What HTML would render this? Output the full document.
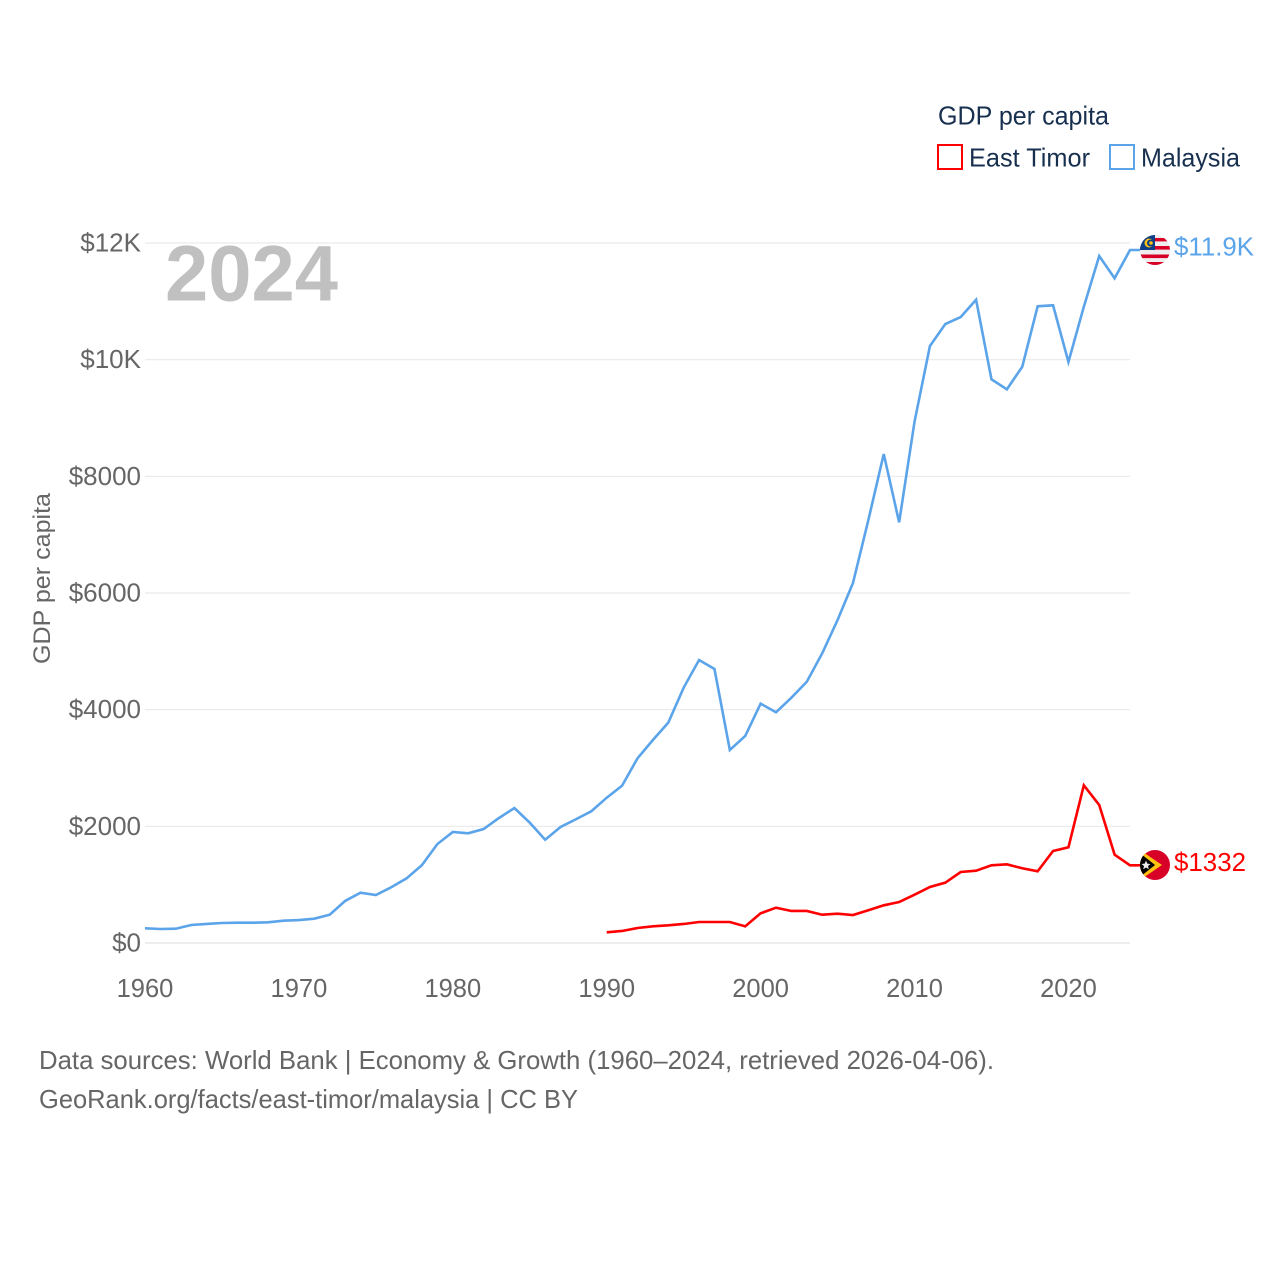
<!DOCTYPE html>
<html lang="en">
<head>
<meta charset="utf-8">
<title>GDP per capita: East Timor and Malaysia</title>
<style>
html,body{margin:0;padding:0;background:#fff;}
svg{display:block;font-family:"Liberation Sans",sans-serif;}
</style>
</head>
<body>
<svg id="chart" width="1280" height="1280" viewBox="0 0 1280 1280" xmlns="http://www.w3.org/2000/svg">
  <defs>
    <clipPath id="clip-my"><circle cx="1155" cy="250" r="15"/></clipPath>
    <clipPath id="clip-tl"><circle cx="1155" cy="865" r="15"/></clipPath>
  </defs>
  <rect x="0" y="0" width="1280" height="1280" fill="#ffffff"/>
  <g id="grid"></g>
  <g id="yticks"></g>
  <g id="xticks"></g>

  <text x="165" y="300.5" font-size="79" font-weight="700" fill="#c0c0c0" textLength="173" lengthAdjust="spacingAndGlyphs">2024</text>
  <text transform="translate(50,578.5) rotate(-90)" text-anchor="middle" font-size="24" fill="#666666" textLength="171" lengthAdjust="spacingAndGlyphs">GDP per capita</text>

  <g id="series"></g>

  <g>
    <text x="938" y="124.5" font-size="26" fill="#18304f" textLength="171" lengthAdjust="spacingAndGlyphs">GDP per capita</text>
    <rect x="938" y="145" width="24" height="24" fill="none" stroke="#ff0000" stroke-width="2"/>
    <text x="969" y="166.5" font-size="26" fill="#18304f" textLength="121" lengthAdjust="spacingAndGlyphs">East Timor</text>
    <rect x="1110" y="145" width="24" height="24" fill="none" stroke="#5ba4ea" stroke-width="2"/>
    <text x="1141" y="166.5" font-size="26" fill="#18304f" textLength="99" lengthAdjust="spacingAndGlyphs">Malaysia</text>
  </g>

  <g clip-path="url(#clip-my)">
    <rect x="1140" y="235" width="30" height="30" fill="#eeeeee"/>
    <rect x="1140" y="238" width="30" height="3.4" fill="#d80027"/>
    <rect x="1140" y="246" width="30" height="3.6" fill="#d80027"/>
    <rect x="1140" y="254.5" width="30" height="3.6" fill="#d80027"/>
    <rect x="1140" y="262" width="30" height="3" fill="#d80027"/>
    <rect x="1140" y="235" width="15" height="15" fill="#0f3f87"/>
    <circle cx="1149" cy="243" r="4.5" fill="#ffc20e"/>
    <circle cx="1150.5" cy="243" r="3.5" fill="#0f3f87"/>
    <circle cx="1151" cy="243" r="1.8" fill="#ffc20e"/>
  </g>
  <g clip-path="url(#clip-tl)">
    <rect x="1140" y="850" width="30" height="30" fill="#d80027"/>
    <polygon points="1140,850 1162,865 1140,880" fill="#ffc20e"/>
    <polygon points="1136,850 1155,865 1136,880" fill="#000000"/>
    <polygon points="1146,860.5 1147.3,863.6 1150.5,864 1148,866 1148.8,869.3 1146,867.5 1143.2,869.3 1144,866 1141.5,864 1144.7,863.6" fill="#eeeeee"/>
  </g>

  <text x="1174" y="255.5" font-size="26" fill="#5ba4ea" textLength="80" lengthAdjust="spacingAndGlyphs">$11.9K</text>
  <text x="1174" y="871" font-size="26" fill="#ff0000" textLength="72" lengthAdjust="spacingAndGlyphs">$1332</text>

  <text x="39" y="1069" font-size="26" fill="#666666" textLength="955" lengthAdjust="spacingAndGlyphs">Data sources: World Bank | Economy &amp; Growth (1960–2024, retrieved 2026-04-06).</text>
  <text x="39" y="1108" font-size="26" fill="#666666" textLength="539" lengthAdjust="spacingAndGlyphs">GeoRank.org/facts/east-timor/malaysia | CC BY</text>
</svg>
<script>
const malaysiaStartYear = 1960;
const malaysiaValues = [252,240,245,309,326,343,348,348,355,382,394,417,485,720,862,823,955,1109,1337,1697,1903,1881,1954,2143,2314,2062,1771,1989,2121,2258,2491,2697,3166,3480,3777,4377,4851,4697,3309,3549,4103,3955,4205,4479,4966,5537,6171,7251,8383,7212,8937,10234,10611,10731,11028,9663,9492,9879,10915,10932,9960,10908,11777,11395,11880];
const eastTimorStartYear = 1990;
const eastTimorValues = [183,206,257,286,303,326,360,360,360,286,509,605,549,549,485,502,480,561,646,702,828,960,1034,1217,1239,1332,1349,1281,1229,1577,1641,2703,2366,1514,1332];
const yTickValues = [0,2000,4000,6000,8000,10000,12000];
const yTickLabels = ["$0","$2000","$4000","$6000","$8000","$10K","$12K"];
const xTickYears = [1960,1970,1980,1990,2000,2010,2020];

const NS = "http://www.w3.org/2000/svg";
function xScale(year){ return 145 + (year - 1960) * (985 / 64); }
function yScale(v){ return 943 - v * (700 / 12000); }
function make(tag, attrs, parent, text){
  const el = document.createElementNS(NS, tag);
  for (const k in attrs) el.setAttribute(k, attrs[k]);
  if (text !== undefined) el.textContent = text;
  parent.appendChild(el);
  return el;
}
const grid = document.getElementById("grid");
const yticks = document.getElementById("yticks");
const xticks = document.getElementById("xticks");
const series = document.getElementById("series");

yTickValues.forEach(function(v, i){
  const y = yScale(v);
  const line = make("line", {x1:145, x2:1130, y1:y, y2:y, stroke:"#e9e9e9", "stroke-width": v === 0 ? 1.6 : 1.2}, grid);
  
  
  const label = make("text", {x:141, y:y + 8.5, "text-anchor":"end", "font-size":26, fill:"#666666"}, yticks, yTickLabels[i]);
  
  
});
xTickYears.forEach(function(year){
  const label = make("text", {x:xScale(year), y:997, "text-anchor":"middle", "font-size":25.5, fill:"#666666"}, xticks, String(year));
  
  
});
function drawSeries(values, startYear, color){
  const pts = values.map(function(v, i){ return xScale(startYear + i).toFixed(2) + "," + yScale(v).toFixed(2); });
  pts.push("1140," + yScale(values[values.length - 1]).toFixed(2));
  return make("polyline", {points:pts.join(" "), fill:"none", stroke:color, "stroke-width":2.6, "stroke-linejoin":"miter"}, series);
}
const malaysiaLine = drawSeries(malaysiaValues, malaysiaStartYear, "#5ba4ea");


const eastTimorLine = drawSeries(eastTimorValues, eastTimorStartYear, "#ff0000");


</script>
</body>
</html>
